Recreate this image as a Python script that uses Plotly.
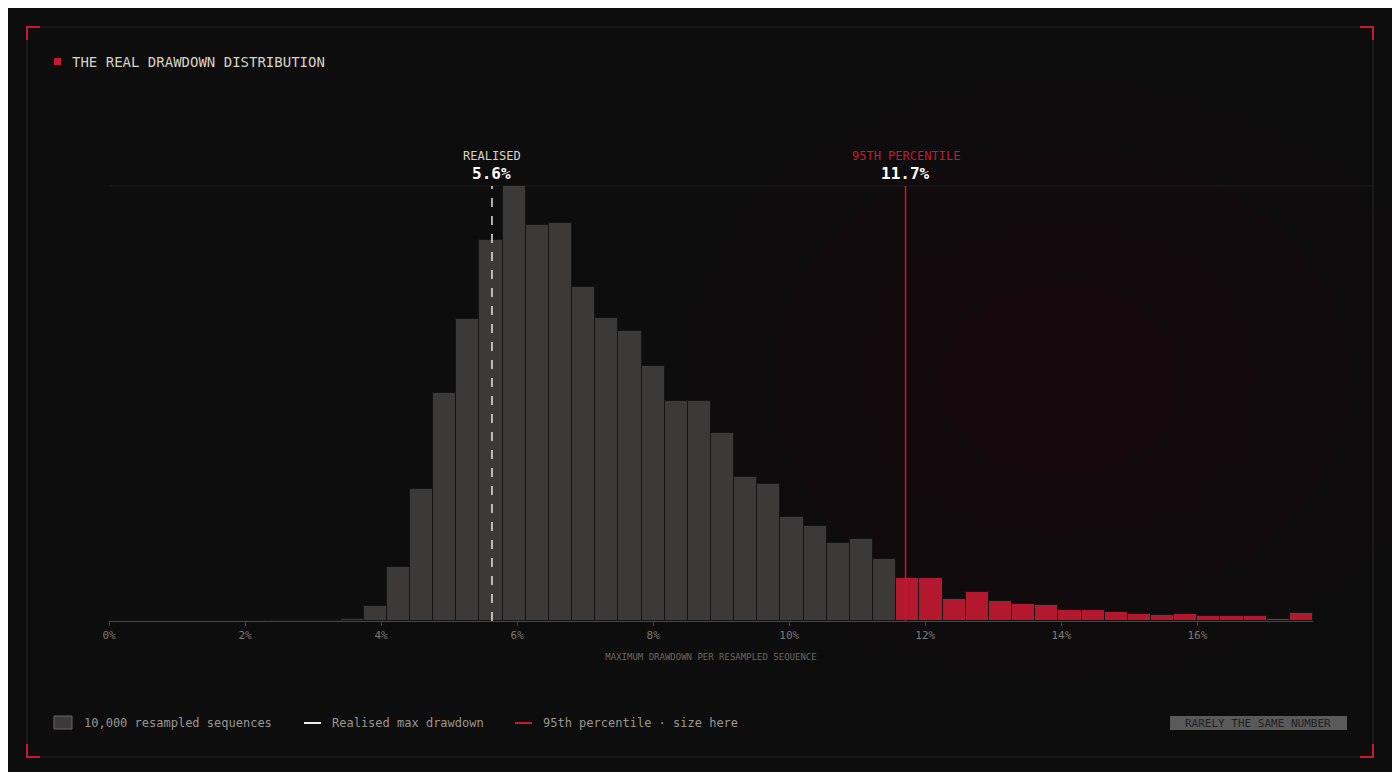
import plotly.graph_objects as go

# histogram of max drawdown (bin width ~0.34%), counts per bin
bin_width = 0.3404
counts = [0, 0, 0, 0, 0, 0, 0, 1, 1, 1, 2,
          15, 54, 132, 228, 302, 381, 435, 396, 398, 334, 303, 290, 255, 220, 220,
          188, 144, 137, 104, 95, 78, 82, 62,
          43, 43, 22, 29, 20, 17, 16, 11, 11, 9, 7, 6, 7, 5, 5, 5, 2, 8]
realised = 5.63
p95 = 11.71
tick_vals = [0, 2, 4, 6, 8, 10, 12, 14, 16]
tick_text = ["0%", "2%", "4%", "6%", "8%", "10%", "12%", "14%", "16%"]

centers = [(i + 0.5) * bin_width for i in range(len(counts))]
colors = ["#b3182e" if c > p95 else "#3b3a39" for c in centers]

OFF = 8  # page body margin
W, H = 1400 - 2 * OFF, 780 - 2 * OFF
L, R, T, B = 109 - OFF, 1313 - OFF, 186 - OFF, 621 - OFF
ymax = max(counts)
MONO = "DejaVu Sans Mono"


def px(x):
    return (x - OFF - L) / (R - L)


def py(y):
    return (B - (y - OFF)) / (B - T)


fig = go.Figure(go.Bar(
    x=centers, y=counts, width=bin_width,
    marker=dict(color=colors, line=dict(color="#141414", width=1)),
    hoverinfo="skip",
))

shapes = []
# faint red glow on tail side
for r in [380, 290, 200, 120]:
    shapes.append(dict(type="circle", xref="paper", yref="paper",
                       x0=px(1060 - r), x1=px(1060 + r), y0=py(380 + r * 0.8), y1=py(380 - r * 0.8),
                       fillcolor="rgba(110,10,25,0.025)", line=dict(width=0), layer="below"))
# frame
shapes.append(dict(type="rect", xref="paper", yref="paper", x0=px(27), x1=px(1373), y0=py(757), y1=py(27),
                   line=dict(color="#262626", width=1), layer="below"))
for cx, cy, dx, dy in [(27, 27, 1, 1), (1373, 27, -1, 1), (27, 757, 1, -1), (1373, 757, -1, -1)]:
    shapes.append(dict(type="path", xref="paper", yref="paper",
                       path=f"M {px(cx + 13 * dx)},{py(cy)} L {px(cx)},{py(cy)} L {px(cx)},{py(cy + 13 * dy)}",
                       line=dict(color="#c8182f", width=2)))
# top faint line
shapes.append(dict(type="line", xref="paper", yref="paper", x0=px(109), x1=px(1373), y0=1, y1=1,
                   line=dict(color="#1e1e1e", width=1), layer="below"))
# marker lines
shapes.append(dict(type="line", x0=realised, x1=realised, yref="paper", y0=0, y1=1,
                   line=dict(color="#e8e4dc", width=1.5, dash="dash")))
shapes.append(dict(type="line", x0=p95, x1=p95, yref="paper", y0=0, y1=1,
                   line=dict(color="#c8182f", width=1.5)))
# title square
shapes.append(dict(type="rect", xref="paper", yref="paper", x0=px(54), x1=px(61), y0=py(65), y1=py(58),
                   fillcolor="#c8182f", line=dict(width=0)))
# legend swatches
shapes.append(dict(type="rect", xref="paper", yref="paper", x0=px(54), x1=px(72), y0=py(729), y1=py(716),
                   fillcolor="#3b3a39", line=dict(color="#666", width=1)))
shapes.append(dict(type="line", xref="paper", yref="paper", x0=px(304), x1=px(321), y0=py(723), y1=py(723),
                   line=dict(color="#eeeeee", width=2)))
shapes.append(dict(type="line", xref="paper", yref="paper", x0=px(515), x1=px(532), y0=py(723), y1=py(723),
                   line=dict(color="#c8182f", width=2)))
# tag box
shapes.append(dict(type="rect", xref="paper", yref="paper", x0=px(1170), x1=px(1347), y0=py(730), y1=py(716),
                   fillcolor="#5a5a5a", line=dict(width=0)))


def note(x, y, text, size, color, anchor="left", xref="paper", bold=False):
    if bold:
        text = f"<b>{text}</b>"
    return dict(x=x, y=y, xref=xref, yref="paper", text=text, showarrow=False,
                xanchor=anchor, yanchor="middle", font=dict(family=MONO, size=size, color=color))


annotations = [
    note(px(70), py(62), "THE REAL DRAWDOWN DISTRIBUTION", 14, "#d8d2c4"),
    note(realised, py(156), "REALISED", 12, "#d8d2c4", "center", "x"),
    note(realised, py(173), "5.6%", 16, "#ffffff", "center", "x", True),
    note(p95, py(156), "95TH PERCENTILE", 12, "#c8182f", "center", "x"),
    note(p95, py(173), "11.7%", 16, "#ffffff", "center", "x", True),
    note(px(82), py(723), "10,000 resampled sequences", 12, "#9a968e"),
    note(px(330), py(723), "Realised max drawdown", 12, "#9a968e"),
    note(px(541), py(723), "95th percentile · size here", 12, "#9a968e"),
    note(px(1258), py(723), "RARELY THE SAME NUMBER", 11, "#222", "center"),
]

fig.update_layout(
    width=W, height=H,
    margin=dict(l=L, r=W - R, t=T, b=H - B),
    paper_bgcolor="#0d0d0d", plot_bgcolor="rgba(0,0,0,0)",
    bargap=0, showlegend=False,
    shapes=shapes, annotations=annotations,
    xaxis=dict(range=[0, 17.7], tickvals=tick_vals, ticktext=tick_text,
               showgrid=False, zeroline=False, showline=True, linecolor="#444",
               ticks="outside", ticklen=4, tickcolor="#444",
               tickfont=dict(family=MONO, size=11, color="#7a7772"),
               title=dict(text="MAXIMUM DRAWDOWN PER RESAMPLED SEQUENCE", standoff=12,
                          font=dict(family=MONO, size=9, color="#6a6762"))),
    yaxis=dict(range=[0, ymax], visible=False, fixedrange=True),
)

fig.write_html("out.html")
